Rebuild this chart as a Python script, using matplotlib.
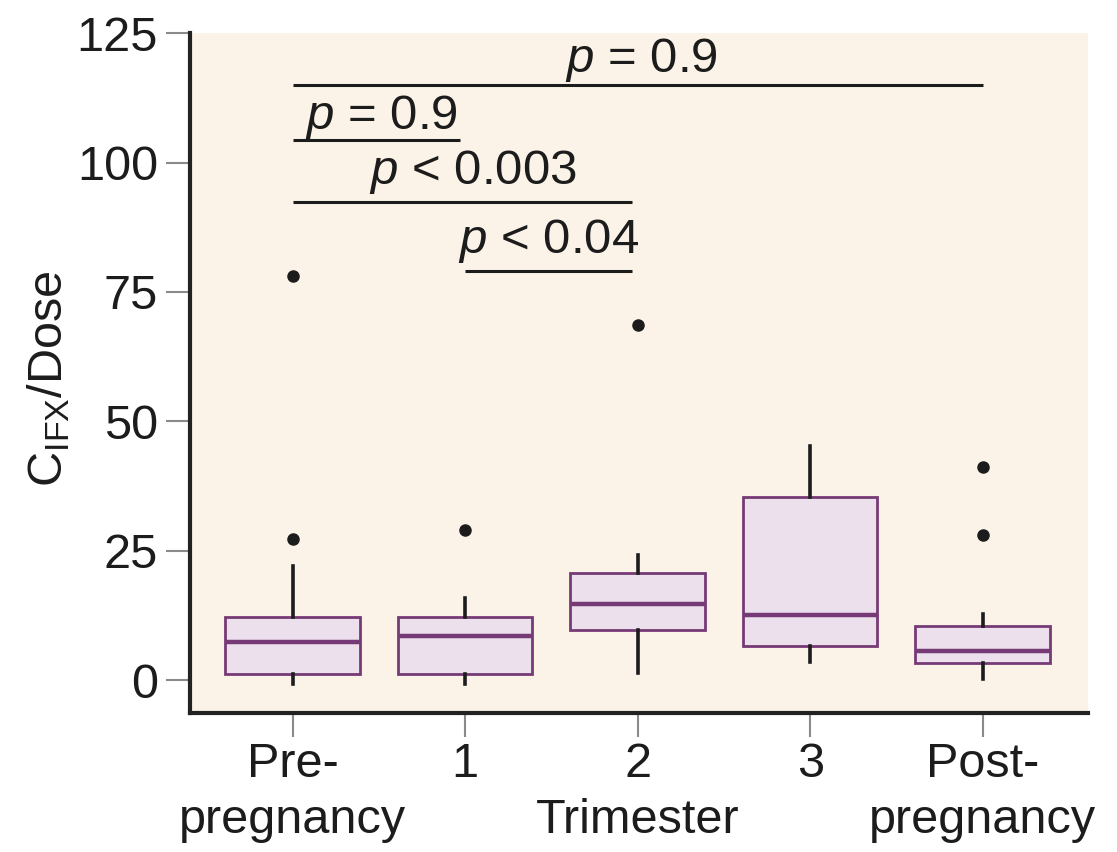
import matplotlib
matplotlib.use("Agg")
import matplotlib.pyplot as plt

plt.rcParams["font.family"] = ["Liberation Sans", "DejaVu Sans"]
plt.rcParams["mathtext.fontset"] = "custom"
plt.rcParams["mathtext.rm"] = "Liberation Sans"
plt.rcParams["mathtext.it"] = "Liberation Sans:italic"

# Groups along the x axis
categories = ["Pre-\npregnancy", "1", "2\nTrimester", "3", "Post-\npregnancy"]

# Box-plot summary statistics of C_IFX/Dose per group
whisker_low = [-0.8, -0.8, 1.4, 3.4, 0.1]
q1 = [1.1, 1.1, 9.7, 6.6, 3.2]
median = [7.3, 8.5, 14.6, 12.6, 5.6]
q3 = [12.1, 12.1, 20.6, 35.4, 10.4]
whisker_high = [22.1, 15.8, 24.2, 45.3, 12.8]
outliers = [[27.2, 78.0], [29.0], [68.6], [], [28.0, 41.1]]

# Pairwise comparisons: (group a, group b, bar height, label)
comp_a = [0, 0, 0, 1]
comp_b = [4, 1, 2, 2]
comp_height = [115.0, 104.3, 92.3, 79.1]
comp_label = [r"$p$ = 0.9", r"$p$ = 0.9", r"$p$ < 0.003", r"$p$ < 0.04"]

yticks = [0, 25, 50, 75, 100, 125]

BG = "#FBF3E7"
BOX_FACE = "#ECE0EC"
BOX_EDGE = "#763A77"
INK = "#1C1C1C"

fig = plt.figure(figsize=(11.17, 8.52), dpi=100)
ax = fig.add_axes([0.170, 0.163, 0.804, 0.798])
ax.set_facecolor(BG)

stats = []
for i in range(len(categories)):
    stats.append(dict(med=median[i], q1=q1[i], q3=q3[i],
                      whislo=whisker_low[i], whishi=whisker_high[i],
                      fliers=outliers[i]))

positions = list(range(len(categories)))
ax.bxp(stats, positions=positions, widths=0.78, patch_artist=True,
       showcaps=False,
       boxprops=dict(facecolor=BOX_FACE, edgecolor=BOX_EDGE, linewidth=2.0),
       medianprops=dict(color=BOX_EDGE, linewidth=3.2),
       whiskerprops=dict(color=INK, linewidth=2.6),
       flierprops=dict(marker="o", markerfacecolor=INK, markeredgecolor=INK,
                       markersize=8),
       zorder=3)

# Significance brackets
label_offsets = [9, 8, 13, 13]
label_shift = [0.02, 0.03, 0.06, 0.0]
for a, b, h, lab, off, sh in zip(comp_a, comp_b, comp_height, comp_label,
                                 label_offsets, label_shift):
    right = b if b == len(categories) - 1 else b - 0.03
    ax.plot([a, right], [h, h], color=INK, linewidth=2.2, solid_capstyle="butt",
            zorder=4)
    ax.annotate(lab, xy=((a + right) / 2 + sh, h), xytext=(0, off),
                textcoords="offset points", ha="center", va="baseline",
                fontsize=35.5, color=INK)

ax.set_xlim(-0.595, 4.61)
ax.set_ylim(-6.4, 125)
ax.set_yticks(yticks)
ax.set_xticks(positions)
ax.set_xticklabels(categories, linespacing=1.3)

for side in ("top", "right"):
    ax.spines[side].set_visible(False)
for side in ("left", "bottom"):
    ax.spines[side].set_linewidth(3.0)
    ax.spines[side].set_color("#222222")

ax.tick_params(axis="both", which="major", length=17, width=1.5,
               color="#8A8A8A", labelsize=35, labelcolor=INK)
ax.tick_params(axis="y", pad=6)
ax.tick_params(axis="x", pad=4)

ax.set_ylabel(r"$\mathregular{C}_{\mathregular{IFX}}$/Dose", fontsize=35,
              color=INK)
ax.yaxis.set_label_coords(-0.131, 0.492)

fig.savefig("out.png", dpi=100, facecolor="white")
